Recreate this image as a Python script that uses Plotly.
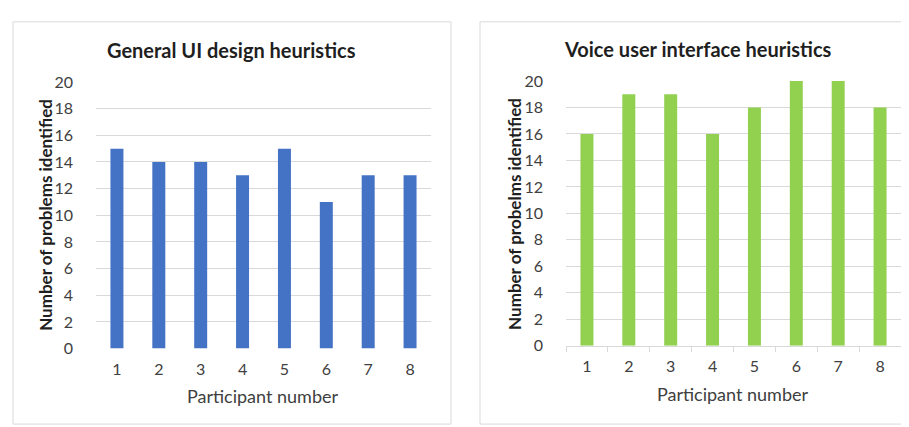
import plotly.graph_objects as go

participants = ["1", "2", "3", "4", "5", "6", "7", "8"]
general_ui = [15, 14, 14, 13, 15, 11, 13, 13]
voice_ui = [16, 19, 19, 16, 18, 20, 20, 18]
y_ticks = [0, 2, 4, 6, 8, 10, 12, 14, 16, 18, 20]

W, H = 909, 427
FONT = "Lato"
GRID = "#D9D9D9"
TICK = "#404040"
TITLE = "#1F1F1F"

def px(x):
    return x / W

def py(y):
    return 1 - y / H

fig = go.Figure()
fig.add_trace(go.Bar(x=participants, y=general_ui, marker=dict(color="#4472C4", line=dict(width=0)),
                     xaxis="x", yaxis="y", width=0.31))
fig.add_trace(go.Bar(x=participants, y=voice_ui, marker=dict(color="#92D050", line=dict(width=0)),
                     xaxis="x2", yaxis="y2", width=0.31))

common_y = dict(range=[0, 20], tickvals=y_ticks, showgrid=True, gridcolor=GRID, gridwidth=1,
                zeroline=False, showline=False, ticks="", ticklabelstandoff=22,
                tickfont=dict(family=FONT, size=16, color=TICK), fixedrange=True)

fig.update_layout(
    width=W, height=H, margin=dict(l=0, r=0, t=0, b=0),
    paper_bgcolor="white", plot_bgcolor="white", showlegend=False,
    font=dict(family=FONT),
    xaxis=dict(domain=[px(88), px(423)], anchor="y", type="category", showgrid=False,
               showline=False, ticks="", ticklabelstandoff=9,
               tickfont=dict(family=FONT, size=16, color=TICK)),
    yaxis=dict(domain=[py(346), py(67)], anchor="x", **common_y),
    xaxis2=dict(domain=[px(558), px(893)], anchor="y2", type="category", showgrid=False,
                showline=True, linecolor=GRID, linewidth=1, ticks="outside", tickson="boundaries",
                ticklen=5, tickcolor=GRID, ticklabelstandoff=6,
                tickfont=dict(family=FONT, size=16, color=TICK)),
    yaxis2=dict(domain=[py(343), py(66)], anchor="x2", **common_y),
)

shapes = [
    dict(type="rect", xref="paper", yref="paper", x0=px(5), x1=px(443), y0=py(425), y1=py(4),
         line=dict(color=GRID, width=1), fillcolor="rgba(0,0,0,0)", layer="below"),
    dict(type="rect", xref="paper", yref="paper", x0=px(472), x1=px(907), y0=py(425), y1=py(4),
         line=dict(color=GRID, width=1), fillcolor="rgba(0,0,0,0)", layer="below"),
]
fig.update_layout(shapes=shapes)

ann = [
    dict(text="<b>General UI design heuristics</b>", x=px(223), y=py(33),
         font=dict(family=FONT, size=20, color=TITLE)),
    dict(text="<b>Voice user interface heuristics</b>", x=px(690), y=py(32),
         font=dict(family=FONT, size=20, color=TITLE)),
    dict(text="<b>Number of problems identified</b>", x=px(38), y=py(206), textangle=-90,
         font=dict(family=FONT, size=17, color=TITLE)),
    dict(text="<b>Number of probelms identified</b>", x=px(507), y=py(205), textangle=-90,
         font=dict(family=FONT, size=17, color=TITLE)),
    dict(text="Participant number", x=px(255), y=py(396),
         font=dict(family=FONT, size=18, color=TICK)),
    dict(text="Participant number", x=px(725), y=py(393),
         font=dict(family=FONT, size=18, color=TICK)),
]
for a in ann:
    a.update(xref="paper", yref="paper", showarrow=False, xanchor="center", yanchor="middle")
fig.update_layout(annotations=ann)

fig.write_html("out.html")
